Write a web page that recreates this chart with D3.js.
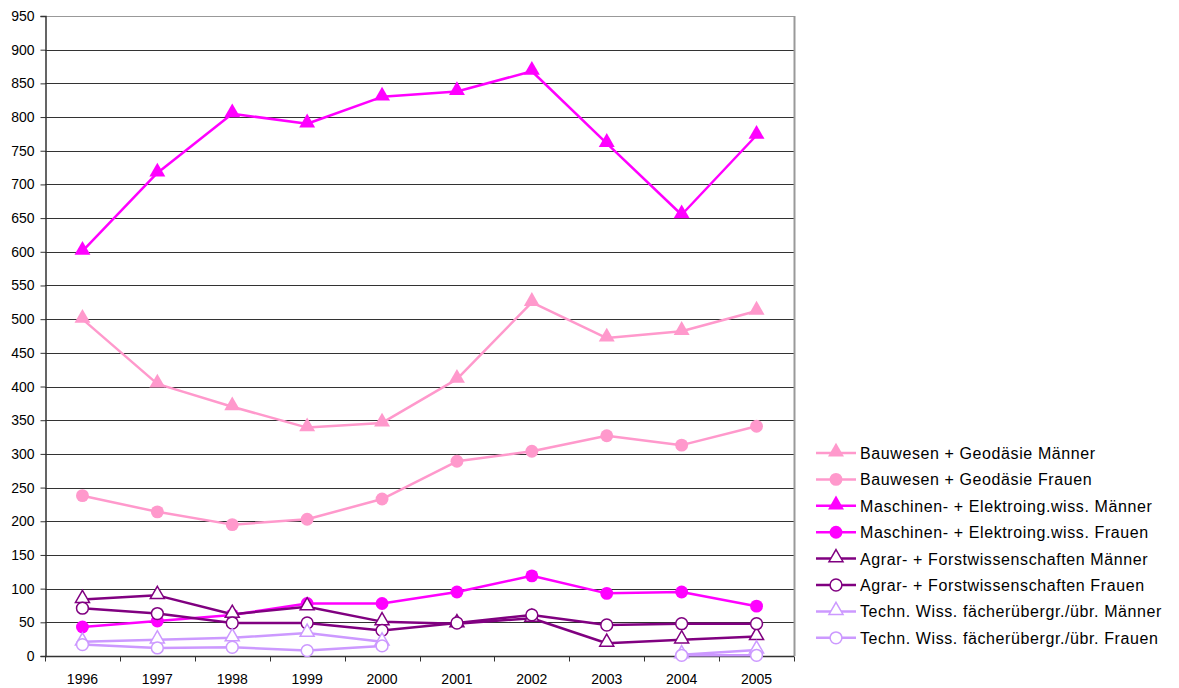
<!DOCTYPE html>
<html>
<head>
<meta charset="utf-8">
<script src="https://cdn.jsdelivr.net/npm/d3@7"></script>
<style>
  html, body { margin: 0; padding: 0; background: #fff; }
  svg { display: block; font-family: "Liberation Sans", Arial, sans-serif; }
</style>
</head>
<body>
<svg id="chart" width="1179" height="688"></svg>
<script>
// Years on the category axis
const years = ["1996","1997","1998","1999","2000","2001","2002","2003","2004","2005"];
const yTicks = d3.range(0, 951, 50);

// Student counts per field and gender (null = no value for that year)
const bauM   = [500, 404, 370, 339, 346, 411, 525, 472, 482, 512];
const bauF   = [238, 214, 195, 203, 233, 289, 304, 327, 313, 341];
const maschM = [601, 717, 805, 790, 830, 838, 868, 761, 655, 773];
const maschF = [43, 52, 61, 78, 78, 95, 119, 93, 95, 74];
const agrarM = [84, 90, 62, 73, 51, 48, 56, 19, 24, 29];
const agrarF = [71, 63, 49, 49, 38, 49, 61, 46, 48, 48];
const technM = [21, 24, 27, 34, 21, null, null, null, 2, 9];
const technF = [17, 12, 13, 8, 15, null, null, null, 1, 1];

const seriesNames = [
  "Bauwesen + Geodäsie Männer",
  "Bauwesen + Geodäsie Frauen",
  "Maschinen- + Elektroing.wiss. Männer",
  "Maschinen- + Elektroing.wiss. Frauen",
  "Agrar- + Forstwissenschaften Männer",
  "Agrar- + Forstwissenschaften Frauen",
  "Techn. Wiss. fächerübergr./übr. Männer",
  "Techn. Wiss. fächerübergr./übr. Frauen"
];
const seriesValues = [bauM, bauF, maschM, maschF, agrarM, agrarF, technM, technF];
const seriesStyle = [
  { color: "#FF99CC", shape: "triangle", filled: true },
  { color: "#FF99CC", shape: "circle",   filled: true },
  { color: "#FF00FF", shape: "triangle", filled: true },
  { color: "#FF00FF", shape: "circle",   filled: true },
  { color: "#800080", shape: "triangle", filled: false },
  { color: "#800080", shape: "circle",   filled: false },
  { color: "#CC99FF", shape: "triangle", filled: false },
  { color: "#CC99FF", shape: "circle",   filled: false }
];

const series = seriesNames.map((name, i) => ({ name, values: seriesValues[i], ...seriesStyle[i] }));

const svg = d3.select("#chart");
const margin = { left: 45, top: 16, right: 1179 - 794, bottom: 688 - 656 };
const W = 1179 - margin.left - margin.right;
const H = 688 - margin.top - margin.bottom;

const g = svg.append("g").attr("transform", `translate(${margin.left},${margin.top})`);

const x = d3.scaleBand().domain(years).range([0, W]);
const y = d3.scaleLinear().domain([0, 950]).range([H, 0]);

// Horizontal gridlines
g.append("g")
  .selectAll("line")
  .data(yTicks.filter(v => v > 0))
  .join("line")
  .attr("x1", 0).attr("x2", W)
  .attr("y1", d => Math.round(y(d)) + 0.5).attr("y2", d => Math.round(y(d)) + 0.5)
  .attr("stroke", d => d === 950 ? "#999" : "#333")
  .attr("stroke-width", 1);

// Right border of the plot area
g.append("line")
  .attr("x1", W + 0.5).attr("x2", W + 0.5)
  .attr("y1", 0).attr("y2", H)
  .attr("stroke", "#999").attr("stroke-width", 2);

// Y axis
const yAxis = g.append("g")
  .attr("transform", "translate(0.5,0)")
  .call(d3.axisLeft(y).tickValues(yTicks).tickSize(5).tickPadding(6).tickFormat(d3.format("d")));
yAxis.select(".domain").attr("stroke", "#333").attr("stroke-width", 1.5);
yAxis.selectAll(".tick line").attr("stroke", "#333");
yAxis.selectAll(".tick text").attr("font-size", 14).attr("fill", "#000")
  .attr("font-family", "'Liberation Sans', Arial, sans-serif");

// X axis with ticks between categories
const xAxisG = g.append("g").attr("transform", `translate(0,${H + 0.5})`);
xAxisG.append("line").attr("x1", 0).attr("x2", W).attr("stroke", "#333").attr("stroke-width", 1.5);
xAxisG.selectAll("line.tk")
  .data(d3.range(years.length + 1))
  .join("line").attr("class", "tk")
  .attr("x1", i => Math.round(i * x.step()) + 0.5).attr("x2", i => Math.round(i * x.step()) + 0.5)
  .attr("y1", 0).attr("y2", 5).attr("stroke", "#333");
xAxisG.selectAll("text")
  .data(years)
  .join("text")
  .attr("x", d => x(d) + x.bandwidth() / 2)
  .attr("y", 27)
  .attr("text-anchor", "middle")
  .attr("font-size", 14)
  .text(d => d);

const cx = d => x(d) + x.bandwidth() / 2;

const line = d3.line()
  .defined(d => d.v !== null)
  .x(d => cx(d.year))
  .y(d => y(d.v));

const triSym = d3.symbol().type(d3.symbolTriangle);
const cirSym = d3.symbol().type(d3.symbolCircle);

function drawMarker(sel, s, px, py) {
  if (s.shape === "triangle") {
    sel.append("path")
      .attr("d", triSym.size(s.filled ? 110 : 85)())
      .attr("transform", `translate(${px},${py - 1})`)
      .attr("fill", s.filled ? s.color : "#fff")
      .attr("stroke", s.color)
      .attr("stroke-width", s.filled ? 0 : 1.5);
  } else {
    sel.append("path")
      .attr("d", cirSym.size(s.filled ? 130 : 110)())
      .attr("transform", `translate(${px},${py})`)
      .attr("fill", s.filled ? s.color : "#fff")
      .attr("stroke", s.color)
      .attr("stroke-width", s.filled ? 0 : 1.5);
  }
}

// Series lines and markers
series.forEach(s => {
  const pts = years.map((yr, i) => ({ year: yr, v: s.values[i] }));
  const sg = g.append("g");
  sg.append("path")
    .datum(pts)
    .attr("d", line)
    .attr("fill", "none")
    .attr("stroke", s.color)
    .attr("stroke-width", 2.5)
    .attr("stroke-linejoin", "round");
  pts.filter(p => p.v !== null).forEach(p => drawMarker(sg, s, cx(p.year), y(p.v)));
});

// Legend
const legend = svg.append("g").attr("transform", "translate(816,453)");
series.forEach((s, i) => {
  const ly = i * 26.4;
  const row = legend.append("g").attr("transform", `translate(0,${ly})`);
  row.append("line").attr("x1", 0).attr("x2", 40).attr("y1", 0).attr("y2", 0)
    .attr("stroke", s.color).attr("stroke-width", 2.5);
  drawMarker(row, s, 20, 0);
  row.append("text").attr("x", 44).attr("y", 6)
    .attr("font-size", 16).attr("letter-spacing", 0.6).attr("fill", "#000").text(s.name);
});
</script>
</body>
</html>
